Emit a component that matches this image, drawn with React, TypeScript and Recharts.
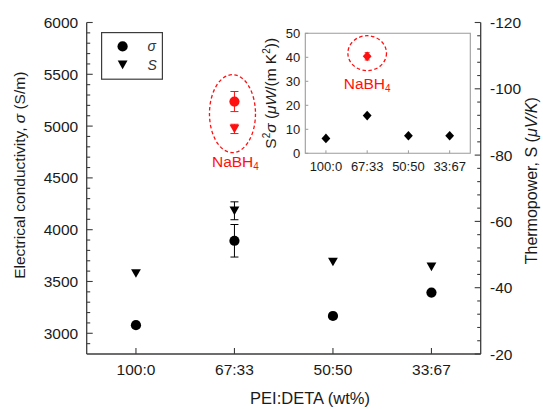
import React from 'react';
import {
  ComposedChart,
  Scatter,
  XAxis,
  YAxis,
  ErrorBar,
  ReferenceDot,
  ReferenceArea,
  Legend,
} from 'recharts';

// ---------------- data ----------------
const categories = ['100:0', '67:33', '50:50', '33:67'];

// Electrical conductivity sigma (S/m), left axis
const sigmaValues = [3078, 3893, 3167, 3393];
const sigmaErrors = [0, 157, 0, 0];

// Thermopower S (uV/K), right axis
const seebeckValues = [-44.3, -63.2, -47.8, -46.3];
const seebeckErrors = [0, 2.7, 0, 0];

// NaBH4-treated sample (at 67:33)
const nabh4Category = '67:33';
const nabh4Sigma = 5237;
const nabh4SigmaError = 97;
const nabh4Seebeck = -87.9;
const nabh4SeebeckError = 1.4;

// Inset: power factor S^2 sigma (uW/(m K^2))
const powerFactorValues = [6.2, 15.7, 7.3, 7.3];
const nabh4PowerFactor = 40.4;
const nabh4PowerFactorError = 1.5;

// tick labels
const leftMajorTicks = [3000, 3500, 4000, 4500, 5000, 5500, 6000];
const leftMinorTicks = [
  2900, 3100, 3200, 3300, 3400, 3600, 3700, 3800, 3900, 4100, 4200, 4300, 4400,
  4600, 4700, 4800, 4900, 5100, 5200, 5300, 5400, 5600, 5700, 5800, 5900,
];
const rightMajorTicks = [-120, -100, -80, -60, -40, -20];
const rightMinorTicks = [
  -116, -112, -108, -104, -96, -92, -88, -84, -76, -72, -68, -64, -56, -52, -48,
  -44, -36, -32, -28, -24,
];
const insetTicks = [0, 10, 20, 30, 40, 50];

// ---------------- built tables ----------------
const catX = (c: string) => categories.indexOf(c) + 1;
const xTicks = categories.map((c) => catX(c));

const sigmaData = categories.map((c, i) => ({ x: catX(c), y: sigmaValues[i], err: sigmaErrors[i] }));
const seebeckData = categories.map((c, i) => ({ x: catX(c), y: seebeckValues[i], err: seebeckErrors[i] }));
const nabh4SigmaData = [{ x: catX(nabh4Category), y: nabh4Sigma, err: nabh4SigmaError }];
const nabh4SeebeckData = [{ x: catX(nabh4Category), y: nabh4Seebeck, err: nabh4SeebeckError }];
const pfData = categories.map((c, i) => ({ x: catX(c), y: powerFactorValues[i] }));
const nabh4PfData = [{ x: catX(nabh4Category), y: nabh4PowerFactor, err: nabh4PowerFactorError }];

const leftTicks = [...leftMajorTicks, ...leftMinorTicks].sort((a, b) => a - b);
const rightTicks = [...rightMajorTicks, ...rightMinorTicks].sort((a, b) => a - b);

// ---------------- styles ----------------
const FONT = '"Liberation Sans", Arial, Helvetica, sans-serif';
const AXIS = '#3c3c3c';
const TEXT = '#1a1a1a';
const RED = '#ff1010';
const INSET_AXIS = '#9c9c9c';

// ---------------- shapes ----------------
const circleShape = (color: string) => (p: any) =>
  p.cx == null ? <g /> : <circle cx={p.cx} cy={p.cy} r={5.1} fill={color} />;

const triangleShape = (color: string) => (p: any) =>
  p.cx == null ? (
    <g />
  ) : (
    <path
      d={`M${p.cx - 4.9},${p.cy - 4.2}L${p.cx + 4.9},${p.cy - 4.2}L${p.cx},${p.cy + 4.4}Z`}
      fill={color}
    />
  );

const diamondShape = (color: string) => (p: any) =>
  p.cx == null ? (
    <g />
  ) : (
    <path
      d={`M${p.cx},${p.cy - 4.8}L${p.cx + 4.4},${p.cy}L${p.cx},${p.cy + 4.8}L${p.cx - 4.4},${p.cy}Z`}
      fill={color}
    />
  );

// ---------------- ticks ----------------
const L_MARGIN = 8.5;
const LeftTick = (p: any) => {
  const v = p.payload.value;
  const major = leftMajorTicks.includes(v);
  const ax = p.x + L_MARGIN;
  return (
    <g>
      <line x1={ax} y1={p.y} x2={ax + (major ? 6 : 3.5)} y2={p.y} stroke={AXIS} strokeWidth={1.1} />
      {major && (
        <text x={p.x} y={p.y} dy="0.36em" textAnchor="end" fontSize={15.5} fontFamily={FONT} fill={TEXT}>
          {v}
        </text>
      )}
    </g>
  );
};

const R_MARGIN = 9.3;
const RightTick = (p: any) => {
  const v = p.payload.value;
  const major = rightMajorTicks.includes(v);
  const ax = p.x - R_MARGIN;
  return (
    <g>
      <line x1={ax} y1={p.y} x2={ax - (major ? 6 : 3.5)} y2={p.y} stroke={AXIS} strokeWidth={1.1} />
      {major && (
        <text x={p.x} y={p.y} dy="0.36em" textAnchor="start" fontSize={15.5} fontFamily={FONT} fill={TEXT}>
          {v}
        </text>
      )}
    </g>
  );
};

const B_MARGIN = 15;
const BottomTick = (p: any) => {
  const v = p.payload.value;
  const ay = p.y - B_MARGIN;
  return (
    <g>
      <line x1={p.x} y1={ay} x2={p.x} y2={ay - 6} stroke={AXIS} strokeWidth={1.1} />
      <text x={p.x} y={p.y} dy="0.36em" textAnchor="middle" fontSize={15.5} fontFamily={FONT} fill={TEXT}>
        {categories[v - 1]}
      </text>
    </g>
  );
};

const IL_MARGIN = 5;
const InsetLeftTick = (p: any) => {
  const v = p.payload.value;
  const ax = p.x + IL_MARGIN;
  return (
    <g>
      <line x1={ax} y1={p.y} x2={ax + 3} y2={p.y} stroke={INSET_AXIS} strokeWidth={1} />
      <text x={p.x} y={p.y} dy="0.36em" textAnchor="end" fontSize={13} fontFamily={FONT} fill={TEXT}>
        {v}
      </text>
    </g>
  );
};

const IB_MARGIN = 13;
const InsetBottomTick = (p: any) => {
  const v = p.payload.value;
  const ay = p.y - IB_MARGIN;
  return (
    <g>
      <line x1={p.x} y1={ay} x2={p.x} y2={ay - 3} stroke={INSET_AXIS} strokeWidth={1} />
      <text x={p.x} y={p.y} dy="0.36em" textAnchor="middle" fontSize={13} fontFamily={FONT} fill={TEXT}>
        {categories[v - 1]}
      </text>
    </g>
  );
};

// ---------------- axis labels ----------------
const LeftLabel = (props: any) => {
  const vb = props.viewBox || { x: 0, y: 22.5, width: 86.7, height: 331.5 };
  const cx = vb.x + 19.5;
  const cy = vb.y + vb.height / 2 - 13;
  return (
    <text
      x={cx}
      y={cy}
      dy="0.36em"
      transform={`rotate(-90 ${cx} ${cy})`}
      textAnchor="middle"
      fontSize={15.5}
      fontFamily={FONT}
      fill={TEXT}
    >
      Electrical conductivity, <tspan fontStyle="italic">σ</tspan> (S/m)
    </text>
  );
};

const RightLabel = (props: any) => {
  const vb = props.viewBox || { x: 480.7, y: 22.5, width: 62.3, height: 331.5 };
  const cx = vb.x + 51;
  const cy = vb.y + vb.height / 2 - 7.5;
  return (
    <text
      x={cx}
      y={cy}
      dy="0.36em"
      transform={`rotate(-90 ${cx} ${cy})`}
      textAnchor="middle"
      fontSize={16}
      fontFamily={FONT}
      fill={TEXT}
    >
      Thermopower, S (<tspan fontStyle="italic">μV/K</tspan>)
    </text>
  );
};

const BottomLabel = (props: any) => {
  const vb = props.viewBox || { x: 86.7, y: 354, width: 394, height: 55 };
  const cx = vb.x + vb.width / 2 + 26.3;
  const cy = vb.y + 44.5;
  return (
    <text x={cx} y={cy} dy="0.36em" textAnchor="middle" fontSize={16.5} fontFamily={FONT} fill={TEXT}>
      PEI:DETA (wt%)
    </text>
  );
};

const InsetLeftLabel = (props: any) => {
  const vb = props.viewBox || { x: 0, y: 13.3, width: 50.3, height: 120 };
  const cx = vb.x + 15.5;
  const cy = vb.y + vb.height / 2;
  return (
    <text
      x={cx}
      y={cy}
      dy="0.36em"
      transform={`rotate(-90 ${cx} ${cy})`}
      textAnchor="middle"
      fontSize={15.5}
      fontFamily={FONT}
      fill={TEXT}
    >
      S
      <tspan dy={-6} fontSize={10}>2</tspan>
      <tspan dy={6} fontStyle="italic">σ</tspan> (<tspan fontStyle="italic">μW</tspan>/(m K
      <tspan dy={-6} fontSize={10}>2</tspan>
      <tspan dy={6}>))</tspan>
    </text>
  );
};

// ---------------- annotations ----------------
const ellipseShape = (rx: number, ry: number) => (p: any) =>
  p.cx == null ? (
    <g />
  ) : (
    <ellipse cx={p.cx} cy={p.cy} rx={rx} ry={ry} fill="none" stroke={RED} strokeWidth={1.3} strokeDasharray="3.5 2.5" />
  );

const nabhLabelShape = (p: any) =>
  p.cx == null ? (
    <g />
  ) : (
    <text x={p.cx} y={p.cy} dy="0.36em" textAnchor="middle" fontSize={15.5} fontFamily={FONT} fill={RED}>
      NaBH<tspan dy={3} fontSize={10}>4</tspan>
    </text>
  );

// ---------------- legend ----------------
const LegendBox = () => (
  <svg width={62} height={48} style={{ display: 'block' }}>
    <rect x={0.6} y={0.6} width={60.8} height={46.6} fill="#fff" stroke={AXIS} strokeWidth={1.2} />
    <circle cx={21.6} cy={14.4} r={5.1} fill="#000" />
    <path d="M16.7,28.6L26.5,28.6L21.6,37.2Z" fill="#000" />
    <text x={46.5} y={14.4} dy="0.36em" fontStyle="italic" fontSize={14} fontFamily={FONT} fill="#333">
      σ
    </text>
    <text x={46.5} y={32.9} dy="0.36em" fontStyle="italic" fontSize={14} fontFamily={FONT} fill="#333">
      S
    </text>
  </svg>
);

// ---------------- charts ----------------
const MainChart = () => (
  <ComposedChart width={543} height={409} margin={{ top: 22.5, right: 0, bottom: 0, left: 0 }}>
    <XAxis
      type="number"
      dataKey="x"
      domain={[0.5, 4.5]}
      ticks={xTicks}
      interval={0}
      height={55}
      tickSize={0}
      tickMargin={B_MARGIN}
      tickLine={false}
      axisLine={{ stroke: AXIS, strokeWidth: 1.3 }}
      tick={<BottomTick />}
      label={{ content: BottomLabel }}
    />
    <YAxis
      yAxisId="left"
      type="number"
      dataKey="y"
      domain={[2800, 6000]}
      ticks={leftTicks}
      interval={0}
      width={86.7}
      tickSize={0}
      tickMargin={L_MARGIN}
      tickLine={false}
      axisLine={{ stroke: AXIS, strokeWidth: 1.3 }}
      tick={<LeftTick />}
      label={{ content: LeftLabel }}
    />
    <YAxis
      yAxisId="right"
      orientation="right"
      type="number"
      dataKey="y"
      domain={[-120, -20]}
      reversed
      ticks={rightTicks}
      interval={0}
      width={62.3}
      tickSize={0}
      tickMargin={R_MARGIN}
      tickLine={false}
      axisLine={{ stroke: AXIS, strokeWidth: 1.3 }}
      tick={<RightTick />}
      label={{ content: RightLabel }}
    />
    <Legend
      layout="horizontal"
      verticalAlign="middle"
      align="center"
      width={62}
      height={48}
      wrapperStyle={{ left: 101.1, top: 31.7, width: 62, height: 48 }}
      content={() => <LegendBox />}
    />
    <Scatter yAxisId="left" data={sigmaData} shape={circleShape('#000')} isAnimationActive={false}>
      <ErrorBar dataKey="err" direction="y" width={4} stroke="#000" strokeWidth={1} isAnimationActive={false} />
    </Scatter>
    <Scatter yAxisId="right" data={seebeckData} shape={triangleShape('#000')} isAnimationActive={false}>
      <ErrorBar dataKey="err" direction="y" width={4} stroke="#000" strokeWidth={1} isAnimationActive={false} />
    </Scatter>
    <Scatter yAxisId="left" data={nabh4SigmaData} shape={circleShape(RED)} isAnimationActive={false}>
      <ErrorBar dataKey="err" direction="y" width={4} stroke={RED} strokeWidth={1} isAnimationActive={false} />
    </Scatter>
    <Scatter yAxisId="right" data={nabh4SeebeckData} shape={triangleShape(RED)} isAnimationActive={false}>
      <ErrorBar dataKey="err" direction="y" width={4} stroke={RED} strokeWidth={1} isAnimationActive={false} />
    </Scatter>
    <ReferenceDot yAxisId="left" x={catX(nabh4Category) - 0.02} y={5120} shape={ellipseShape(23, 39)} />
    <ReferenceDot yAxisId="left" x={catX(nabh4Category) + 0.01} y={4655} shape={nabhLabelShape} />
  </ComposedChart>
);

const InsetChart = () => (
  <ComposedChart width={225} height={170} margin={{ top: 13.3, right: 9.7, bottom: 0, left: 0 }}>
    <XAxis
      type="number"
      dataKey="x"
      domain={[0.5, 4.5]}
      ticks={xTicks}
      interval={0}
      height={36.7}
      tickSize={0}
      tickMargin={IB_MARGIN}
      tickLine={false}
      axisLine={false}
      tick={<InsetBottomTick />}
    />
    <YAxis
      type="number"
      dataKey="y"
      domain={[0, 50]}
      ticks={insetTicks}
      interval={0}
      width={50.3}
      tickSize={0}
      tickMargin={IL_MARGIN}
      tickLine={false}
      axisLine={false}
      tick={<InsetLeftTick />}
      label={{ content: InsetLeftLabel }}
    />
    <ReferenceArea x1={0.5} x2={4.5} y1={0} y2={50} fill="none" stroke={INSET_AXIS} strokeWidth={1.1} />
    <Scatter data={pfData} shape={diamondShape('#000')} isAnimationActive={false} />
    <Scatter data={nabh4PfData} shape={diamondShape(RED)} isAnimationActive={false}>
      <ErrorBar dataKey="err" direction="y" width={2.5} stroke={RED} strokeWidth={1} isAnimationActive={false} />
    </Scatter>
    <ReferenceDot x={catX(nabh4Category)} y={41.7} shape={ellipseShape(19.3, 17.5)} />
    <ReferenceDot x={catX(nabh4Category)} y={29.2} shape={nabhLabelShape} />
  </ComposedChart>
);

export default function App() {
  return (
    <div
      style={{
        position: 'absolute',
        left: 0,
        top: 0,
        width: 543,
        height: 409,
        background: '#fff',
        fontFamily: FONT,
        overflow: 'hidden',
      }}
    >
      <div style={{ position: 'absolute', left: 0, top: 0 }}>
        <MainChart />
      </div>
      <div style={{ position: 'absolute', left: 255, top: 20 }}>
        <InsetChart />
      </div>
    </div>
  );
}
